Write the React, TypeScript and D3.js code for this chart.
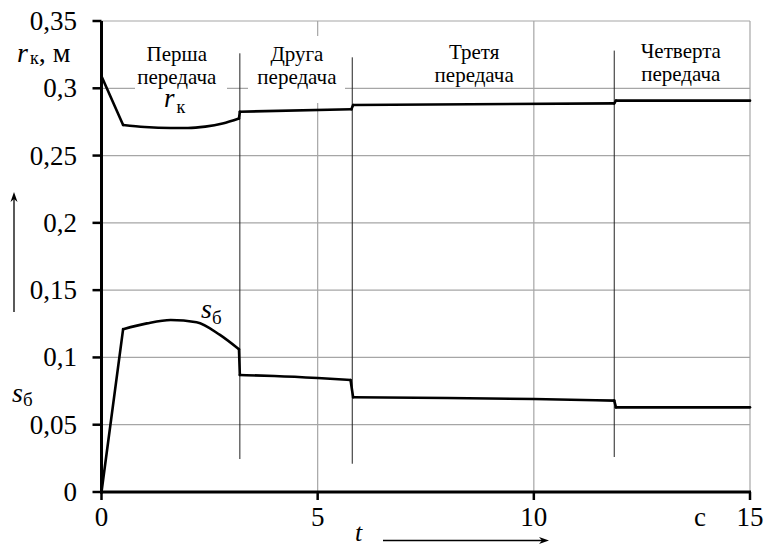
import React from "react";
import * as d3 from "d3";

// час, с
const rkT = [0, 0.5, 1.0, 1.6, 2.0, 2.4, 2.8, 3.18, 3.2, 5.78, 5.82, 11.86, 11.9, 15];
// радіус колеса r_к, м
const rkV = [0.309, 0.2727, 0.2712, 0.2705, 0.2705, 0.2715, 0.2738, 0.2775, 0.2826, 0.2844, 0.2876, 0.2888, 0.2908, 0.2908];

const sT = [0, 0.5, 1.05, 1.6, 2.2, 2.74, 3.18, 3.2, 4.0, 5.0, 5.76, 5.82, 8.0, 10.0, 11.86, 11.9, 15];
// буксування s_б
const sV = [0, 0.121, 0.1253, 0.1278, 0.1262, 0.1167, 0.106, 0.0869, 0.0862, 0.0847, 0.0832, 0.0704, 0.0699, 0.0691, 0.0679, 0.0629, 0.0629];

// моменти перемикання передач
const gearT = [3.2, 5.8, 11.86];
const gearTop = [0.326, 0.323, 0.328];
const gearBottom = [0.0245, 0.021, 0.026];

const gearNames = ["Перша", "Друга", "Третя", "Четверта"];
const gearCenters = [1.74, 4.52, 8.62, 13.4];

const yTicks = [0, 0.05, 0.1, 0.15, 0.2, 0.25, 0.3, 0.35];
const yTickLabels = ["0", "0,05", "0,1", "0,15", "0,2", "0,25", "0,3", "0,35"];
const xTicks = [0, 5, 10, 15];
const xTickLabels = ["0", "5", "10", "15"];

const W = 764;
const H = 546;
const FONT = "Liberation Serif";

type P = [number, number];

// розбиває ряд на гладкі ділянки: злам на старті та стрибки при перемиканні
function splitSeries(ts: number[], vs: number[]): P[][] {
  const segs: P[][] = [];
  let cur: P[] = [];
  ts.forEach((t, i) => {
    if (i === 1 || (i > 0 && t - ts[i - 1] < 0.1)) {
      segs.push(cur);
      cur = [];
    }
    cur.push([t, vs[i]]);
  });
  segs.push(cur);
  return segs;
}

export default function App() {
  const x = d3.scaleLinear().domain([0, 15]).range([101.5, 750]);
  const y = d3.scaleLinear().domain([0, 0.35]).range([492, 21]);

  const smooth = d3
    .line<P>()
    .x((d) => x(d[0]))
    .y((d) => y(d[1]))
    .curve(d3.curveMonotoneX);

  const series = [splitSeries(rkT, rkV), splitSeries(sT, sV)];

  // білі підкладки під підписи передач
  const boxes = [
    { x0: 135, x1: 227, y0: 40, y1: 95 },
    { x0: 248, x1: 345, y0: 36, y1: 103 },
    { x0: 440, x1: 510, y0: 40, y1: 85 },
    { x0: 636, x1: 727, y0: 38, y1: 84 },
  ];
  const labelBase = [61, 61, 59, 58];
  const txt = { fontFamily: FONT };

  return (
    <svg width={W} height={H} style={{ position: "absolute", left: 0, top: 0, background: "#fff" }}>
      <rect width={W} height={H} fill="#fff" />
      {/* сітка */}
      {yTicks.slice(1).map((v) => (
        <line key={"gy" + v} x1={x(0)} x2={x(15)} y1={y(v)} y2={y(v)} stroke="#a6a6a6" strokeWidth={1.2} />
      ))}
      {xTicks.slice(1).map((v) => (
        <line key={"gx" + v} x1={x(v)} x2={x(v)} y1={y(0)} y2={y(0.35)} stroke="#a6a6a6" strokeWidth={1.2} />
      ))}
      {boxes.map((b, i) => (
        <rect key={"b" + i} x={b.x0} y={b.y0} width={b.x1 - b.x0} height={b.y1 - b.y0} fill="#fff" />
      ))}
      {/* лінії перемикання */}
      {gearT.map((t, i) => (
        <line key={"g" + i} x1={x(t)} x2={x(t)} y1={y(gearTop[i])} y2={y(gearBottom[i])} stroke="#222" strokeWidth={1} />
      ))}
      {/* підписи передач */}
      {gearNames.map((n, i) => (
        <text key={"n" + i} x={x(gearCenters[i])} y={labelBase[i]} fontSize={21} textAnchor="middle" style={txt}>
          <tspan x={x(gearCenters[i])}>{n}</tspan>
          <tspan x={x(gearCenters[i])} dy={23}>передача</tspan>
        </text>
      ))}
      {/* осі */}
      <line x1={x(0)} x2={x(0)} y1={y(0) + 1.5} y2={y(0.35)} stroke="#000" strokeWidth={3} />
      <line x1={x(0) - 1.5} x2={x(15) + 1} y1={y(0)} y2={y(0)} stroke="#000" strokeWidth={3} />
      {yTicks.map((v) => (
        <line key={"ty" + v} x1={x(0) - 9} x2={x(0)} y1={y(v)} y2={y(v)} stroke="#000" strokeWidth={2.5} />
      ))}
      {xTicks.map((v) => (
        <line key={"tx" + v} x1={x(v)} x2={x(v)} y1={y(0)} y2={y(0) + 8} stroke="#000" strokeWidth={2.5} />
      ))}
      {yTicks.map((v, i) => (
        <text key={"ly" + v} x={77} y={y(v) + 9} fontSize={27} textAnchor="end" style={txt}>
          {yTickLabels[i]}
        </text>
      ))}
      {xTicks.map((v, i) => (
        <text key={"lx" + v} x={x(v)} y={526} fontSize={27} textAnchor="middle" style={txt}>
          {xTickLabels[i]}
        </text>
      ))}
      {/* криві */}
      {series.map((segs, si) => (
        <g key={"s" + si} fill="none" stroke="#000" strokeWidth={2.6} strokeLinejoin="round" strokeLinecap="round">
          {segs.map((seg, k) => (seg.length > 1 ? <path key={"p" + k} d={smooth(seg) ?? ""} /> : null))}
          {segs.slice(1).map((seg, k) => {
            const a = segs[k][segs[k].length - 1];
            const b = seg[0];
            return <line key={"c" + k} x1={x(a[0])} y1={y(a[1])} x2={x(b[0])} y2={y(b[1])} />;
          })}
        </g>
      ))}
      {/* підписи кривих */}
      <text x={164} y={107} fontSize={27} style={txt}>
        <tspan fontStyle="italic">r</tspan>
        <tspan fontSize={18} dy={6} dx={2}>к</tspan>
      </text>
      <text x={201} y={318} fontSize={28} style={txt}>
        <tspan fontStyle="italic">s</tspan>
        <tspan fontSize={19} dy={6}>б</tspan>
      </text>
      {/* підписи осей */}
      <text x={17} y={62} fontSize={28} style={txt}>
        <tspan fontStyle="italic">r</tspan>
        <tspan fontSize={18} dy={2} dx={2}>к</tspan>
        <tspan dy={-2}>, м</tspan>
      </text>
      <text x={12} y={402} fontSize={28} style={txt}>
        <tspan fontStyle="italic">s</tspan>
        <tspan fontSize={19} dy={4}>б</tspan>
      </text>
      <line x1={14} x2={14} y1={312} y2={197} stroke="#000" strokeWidth={1.3} />
      <path d="M14,192 L10.5,202 L14,199 L17.5,202 Z" fill="#000" />
      <text x={694} y={526} fontSize={27} style={txt}>c</text>
      <text x={355} y={541} fontSize={26} fontStyle="italic" style={txt}>t</text>
      <line x1={383} x2={543} y1={540.5} y2={540.5} stroke="#000" strokeWidth={1.3} />
      <path d="M549,540.5 L539,537 L542,540.5 L539,544 Z" fill="#000" />
    </svg>
  );
}
